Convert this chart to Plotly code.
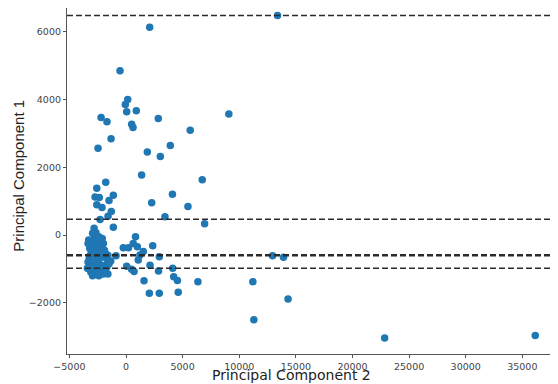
import plotly.graph_objects as go

# principal component scores (x = PC2, y = PC1)
pc2_values = [
    -530, 150, -60, 60, 910, -2200, -1680, 500, 620, 2850, 9080, 5670,
    -1320, -2470, 1880, 3910, 3030, 1380, 6730, -1790, -2580, 2090, 13380,
    4100, -1120, -2730, -2360, -1500, -2580, -2120, -1300, -1590, -2290,
    -1120, 2270, 5470, 3440, 6940, -2820, -2650,
    840, -240, 220, 640, 1000, 1530, 2360, 1230, 2940, 1080, -880, -1350,
    60, 490, 710, 2120, 2870, 4120, 1590, 4210, 4540, 6350, 2060, 2940,
    4610, 11200, 11290, 12940, 13910, 14310, 22840, 36140,
    -3300, -3200, -3350, -3100, -3000, -2900, -3250, -3150, -3050, -3200,
    -3000, -2900, -2800, -2700, -2950, -2600, -2500, -2400, -2300, -2200,
    -2100, -2000, -1900, -2700, -2600, -2800, -2500, -2400, -2300, -2700,
    -2900, -2200, -2100, -2000, -1800, -1600, -2500, -2400, -2700, -1900,
    -1700, -1500, -1700, -2000, -1800, -1600, -3350, -3300, -2950, -2300,
    -2150, -3410,
]
pc1_values = [
    4850, 4000, 3850, 3640, 3670, 3470, 3340, 3270, 3170, 3440, 3570, 3090,
    2840, 2560, 2450, 2640, 2320, 1770, 1630, 1560, 1380, 6130, 6480,
    1200, 1170, 1120, 1110, 1020, 890, 810, 690, 550, 460,
    230, 950, 840, 540, 330, 200, 70,
    -50, -380, -380, -250, -350, -490, -320, -590, -640, -740, -610, -770,
    -920, -1010, -1080, -890, -1060, -980, -1350, -1230, -1340, -1380, -1720, -1720,
    -1690, -1380, -2500, -610, -660, -1890, -3040, -2970,
    -1000, -950, -800, -1100, -1050, -950, -700, -600, -500, -400,
    -300, -200, -100, 0, 50, -150, -250, -50, -150, -300,
    -100, -250, -450, -400, -550, -650, -700, -800, -900, -850,
    -750, -1000, -1100, -1150, -1100, -1150, -1100, -1200, -1150, -900,
    -950, -850, -700, -650, -550, -600, -250, -150, -1200, -450,
    -550, -985,
]

# horizontal reference lines (PC1 levels)
ref_levels = [6480, 464, -585, -615, -984]

x_ticks = [-5000, 0, 5000, 10000, 15000, 20000, 25000, 30000, 35000]
y_ticks = [-2000, 0, 2000, 4000, 6000]

x_range = [-5211, 38060]
y_range = [-3513, 6701]

fig = go.Figure()
fig.add_trace(
    go.Scatter(
        x=pc2_values,
        y=pc1_values,
        mode="markers",
        marker=dict(color="#1f77b4", size=7.5),
        showlegend=False,
    )
)

for level in ref_levels:
    fig.add_trace(
        go.Scatter(
            x=x_range,
            y=[level, level],
            mode="lines",
            line=dict(color="#2b2b2b", width=1.5, dash="6px,3px"),
            showlegend=False,
            hoverinfo="skip",
        )
    )

axis_common = dict(
    showgrid=False,
    zeroline=False,
    showline=True,
    linecolor="#555555",
    linewidth=1.2,
    mirror=True,
    ticks="outside",
    ticklen=3,
    tickcolor="#555555",
    automargin=False,
    tickfont=dict(family="DejaVu Sans", size=9.5, color="#444444"),
)

# page body has an 8px margin, so the figure is 8px smaller than the window
fig.update_layout(
    width=550,
    height=376,
    margin=dict(l=59, r=1, t=0, b=30),
    paper_bgcolor="white",
    plot_bgcolor="white",
    xaxis=dict(
        range=x_range,
        tickvals=x_ticks,
        ticktext=[str(v).replace("-", "\u2212") for v in x_ticks],
        **axis_common,
    ),
    yaxis=dict(
        range=y_range,
        tickvals=y_ticks,
        ticktext=[str(v).replace("-", "\u2212") for v in y_ticks],
        **axis_common,
    ),
    annotations=[
        dict(text="Principal Component 2", xref="paper", yref="paper",
             x=0.459, y=-0.06, xanchor="center", yanchor="middle",
             showarrow=False,
             font=dict(family="DejaVu Sans", size=14, color="#222222")),
        dict(text="Principal Component 1", xref="paper", yref="paper",
             x=-0.1204, y=0.514, xanchor="left", yanchor="middle",
             textangle=-90, showarrow=False,
             font=dict(family="Liberation Sans", size=15, color="#222222")),
    ],
)

fig.write_html("out.html")
